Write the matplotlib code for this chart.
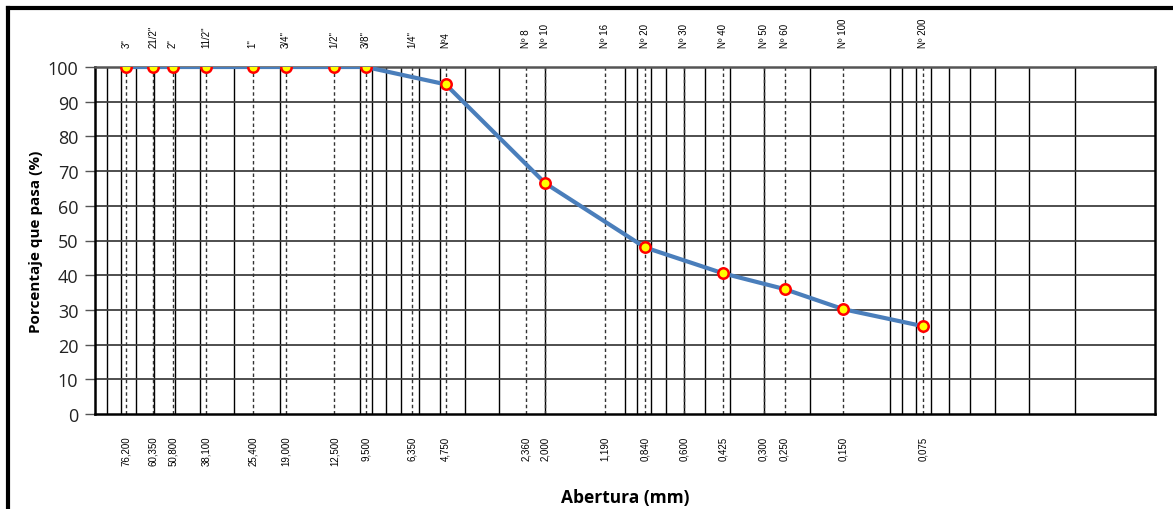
import numpy as np
import matplotlib
matplotlib.use('Agg')
import matplotlib.pyplot as plt
import matplotlib.transforms as mtransforms
from matplotlib.lines import Line2D

plt.rcParams['font.family'] = ['Open Sans', 'DejaVu Sans']

# sieve names and openings (mm)
sieve_names = ['3"', '21/2"', '2"', '11/2"', '1"', '3/4"', '1/2"', '3/8"', '1/4"', 'Nº4',
               'Nº 8', 'Nº 10', 'Nº 16', 'Nº 20', 'Nº 30', 'Nº 40', 'Nº 50', 'Nº 60',
               'Nº 100', 'Nº 200']
sieve_mm = [76.2, 60.35, 50.8, 38.1, 25.4, 19.0, 12.5, 9.5, 6.35, 4.75,
            2.36, 2.0, 1.19, 0.84, 0.6, 0.425, 0.3, 0.25, 0.15, 0.075]

# gradation points (% passing)
test_mm = [76.2, 60.35, 50.8, 38.1, 25.4, 19.0, 12.5, 9.5, 4.75, 2.0, 0.84, 0.425, 0.25, 0.15, 0.075]
passing = [100, 100, 100, 100, 100, 100, 100, 100, 95, 66.5, 48, 40.5, 36, 30.2, 25.3]

fig = plt.figure(figsize=(11.73, 5.10), dpi=100)
ax = fig.add_axes([95 / 1173, 1 - 415 / 510, (1155 - 95) / 1173, (415 - 68) / 510])

ax.set_xscale('log')
ax.set_xlim(100, 0.01)
ax.set_ylim(0, 100)

# log grid (solid)
for dec in [0.01, 0.1, 1, 10]:
    for k in range(1, 10):
        v = k * dec
        if 0.01 < v < 100:
            ax.axvline(v, color='black', lw=1.0, zorder=1)

# horizontal grid
for y in range(10, 100, 10):
    ax.axhline(y, color='#404040', lw=1.3, zorder=1)

# sieve lines (dashed)
for v in sieve_mm:
    ax.axvline(v, color='#333333', lw=1.0, ls=(0, (2.5, 2)), zorder=2)

ax.plot(test_mm, passing, color='#4A7EBB', lw=3, zorder=3)
ax.plot(test_mm, passing, ls='none', marker='o', ms=7.5, mfc='#FFFF00', mec='#FF0000', mew=1.8, zorder=4)

ax.set_xticks([])
ax.xaxis.set_minor_locator(matplotlib.ticker.NullLocator())
ax.set_yticks(range(0, 101, 10))
ax.tick_params(axis='y', direction='out', length=7, width=1, color='#555555',
               labelsize=13, labelcolor='#222222', pad=5)
for s in ax.spines.values():
    s.set_color('black')
    s.set_linewidth(1.8)
ax.spines['top'].set_color('#555555')

trans = mtransforms.blended_transform_factory(ax.transData, ax.transAxes)
for name, v in zip(sieve_names, sieve_mm):
    ax.text(v, 1.058, name, rotation=90, ha='center', va='bottom', fontsize=7,
            family='Liberation Sans', transform=trans)
    ax.text(v, -0.063, f'{v:.3f}'.replace('.', ','), rotation=90, ha='center', va='top',
            fontsize=7, family='Liberation Sans', transform=trans)

ax.set_ylabel('Porcentaje que pasa (%)', fontsize=11, fontweight='bold', labelpad=3)
fig.text(625 / 1173, 1 - 498 / 510, 'Abertura (mm)', ha='center', va='center',
         fontsize=12.5, fontweight='bold')

# outer frame (top and left edges)
fig.add_artist(Line2D([8 / 1173, 1], [1 - 9 / 510, 1 - 9 / 510], color='black', lw=3,
                      transform=fig.transFigure))
fig.add_artist(Line2D([8 / 1173, 8 / 1173], [0, 1 - 9 / 510], color='black', lw=3,
                      transform=fig.transFigure))

fig.savefig('out.png', dpi=100)
